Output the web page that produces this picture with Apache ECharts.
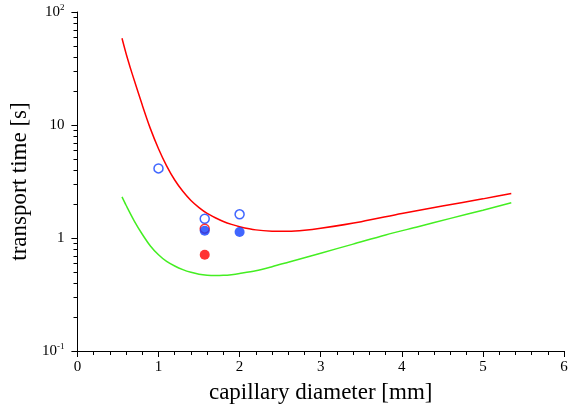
<!DOCTYPE html>
<html>
<head>
<meta charset="utf-8">
<script src="https://cdn.jsdelivr.net/npm/echarts@6/dist/echarts.min.js"></script>
<style>
  html, body { margin: 0; padding: 0; background: #fff; }
  #chart { width: 574px; height: 412px; }
</style>
</head>
<body>
<div id="chart"></div>
<script>
// model curves
var redCurveX = [0.55, 0.6, 0.65, 0.7, 0.8, 0.9, 1.0, 1.1, 1.2, 1.3, 1.4, 1.5, 1.6, 1.7, 1.8, 1.9, 2.0, 2.2, 2.4, 2.6, 2.8, 3.0, 3.5, 4.0, 4.5, 5.0, 5.35];
var redCurveY = [58.5, 42.9, 32.5, 25.0, 15.0, 9.29, 6.17, 4.35, 3.26, 2.59, 2.15, 1.86, 1.65, 1.51, 1.40, 1.32, 1.26, 1.18, 1.15, 1.146, 1.17, 1.22, 1.395, 1.65, 1.92, 2.22, 2.48];
var greenCurveX = [0.55, 0.6, 0.7, 0.8, 0.9, 1.0, 1.1, 1.2, 1.3, 1.4, 1.5, 1.6, 1.7, 1.8, 1.9, 2.0, 2.2, 2.4, 2.6, 2.8, 3.0, 3.4, 3.8, 4.2, 4.6, 5.0, 5.35];
var greenCurveY = [2.31, 1.95, 1.42, 1.08, 0.85, 0.71, 0.62, 0.565, 0.525, 0.497, 0.478, 0.468, 0.465, 0.467, 0.474, 0.485, 0.513, 0.557, 0.61, 0.669, 0.734, 0.883, 1.063, 1.259, 1.492, 1.763, 2.055];

// measured points
var openBlueX = [1.0, 1.57, 2.0];
var openBlueY = [4.13, 1.48, 1.62];
var openRedX = [1.57];
var openRedY = [1.21];
var filledBlueX = [1.57, 2.0];
var filledBlueY = [1.16, 1.13];
var filledRedX = [1.57];
var filledRedY = [0.71];

// minor log ticks between the decades
var yMinorTicks = [0.2, 0.3, 0.4, 0.5, 0.6, 0.7, 0.8, 0.9, 2, 3, 4, 5, 6, 7, 8, 9, 20, 30, 40, 50, 60, 70, 80, 90];

var BLUE = '#1040ff';
var RED = '#ff0000';
var GREEN = '#44ee22';
var FONT = 'Liberation Serif';

function pairs(xs, ys) {
  return xs.map(function (x, i) { return [x, ys[i]]; });
}

var chart = echarts.init(document.getElementById('chart'));

var yLabel = function (v) {
  if (Math.abs(v - 100) < 1e-6) return '{b|10}{sup|2}';
  if (Math.abs(v - 0.1) < 1e-9) return '{b|10}{sup|-1}';
  if (Math.abs(v - 10) < 1e-6) return '{b|10}';
  if (Math.abs(v - 1) < 1e-6) return '{b|1}';
  return '';
};

var options = {
  animation: false,
  backgroundColor: '#fff',
  textStyle: {fontFamily: FONT},
  grid: {left: 77, right: 10, top: 12, bottom: 61},
  xAxis: {
    type: 'value',
    min: 0, max: 6, interval: 1,
    name: 'capillary diameter [mm]',
    nameLocation: 'middle',
    nameGap: 30,
    nameTextStyle: {fontFamily: FONT, fontSize: 23, color: '#000'},
    axisLine: {onZero: false, lineStyle: {color: '#000', width: 1}},
    axisTick: {length: 6, lineStyle: {color: '#000', width: 1}},
    minorTick: {show: true, splitNumber: 5, length: 4, lineStyle: {color: '#000', width: 1}},
    axisLabel: {fontFamily: FONT, fontSize: 15, color: '#000', margin: 9},
    splitLine: {show: false}
  },
  yAxis: {
    type: 'log',
    logBase: 10,
    min: 0.1, max: 100,
    name: 'transport time [s]',
    nameLocation: 'middle',
    nameGap: 37,
    nameTextStyle: {fontFamily: FONT, fontSize: 23, color: '#000'},
    axisLine: {show: true, lineStyle: {color: '#000', width: 1}},
    axisTick: {show: true, length: 6, lineStyle: {color: '#000', width: 1}},
    axisLabel: {
      margin: 13,
      formatter: yLabel,
      rich: {
        b: {fontFamily: FONT, fontSize: 15, color: '#000'},
        sup: {fontFamily: FONT, fontSize: 9, color: '#000', verticalAlign: 'top', padding: [0, 0, 8, 0]}
      }
    },
    splitLine: {show: false}
  },
  series: [
    {
      // short outward ticks at 2..9 of each decade, placed by the log axis
      type: 'custom',
      silent: true,
      clip: false,
      data: yMinorTicks.map(function (v) { return [0, v]; }),
      encode: {x: 0, y: 1},
      renderItem: function (params, api) {
        var p = api.coord([0, api.value(1)]);
        var y = Math.round(p[1]) + 0.5;
        var x = Math.round(p[0]) + 0.5;
        return {
          type: 'line',
          shape: {x1: x - 4, y1: y, x2: x, y2: y},
          style: {stroke: '#000', lineWidth: 1}
        };
      },
      z: 5
    },
    {
      type: 'line', data: pairs(redCurveX, redCurveY), smooth: 0.3,
      showSymbol: false, lineStyle: {color: RED, width: 1.5}, z: 2
    },
    {
      type: 'line', data: pairs(greenCurveX, greenCurveY), smooth: 0.3,
      showSymbol: false, lineStyle: {color: GREEN, width: 1.5}, z: 2
    },
    {
      type: 'scatter', data: pairs(openBlueX, openBlueY), symbol: 'circle', symbolSize: 9,
      itemStyle: {color: '#fff', borderColor: BLUE, borderWidth: 1.5}, z: 3
    },
    {
      type: 'scatter', data: pairs(openRedX, openRedY), symbol: 'circle', symbolSize: 9,
      itemStyle: {color: '#fff', borderColor: RED, borderWidth: 1.5}, z: 3
    },
    {
      type: 'scatter', data: pairs(filledBlueX, filledBlueY), symbol: 'circle', symbolSize: 10,
      itemStyle: {color: BLUE}, z: 4
    },
    {
      type: 'scatter', data: pairs(filledRedX, filledRedY), symbol: 'circle', symbolSize: 10,
      itemStyle: {color: RED}, z: 4
    }
  ]
};

chart.setOption(options);
</script>
</body>
</html>
